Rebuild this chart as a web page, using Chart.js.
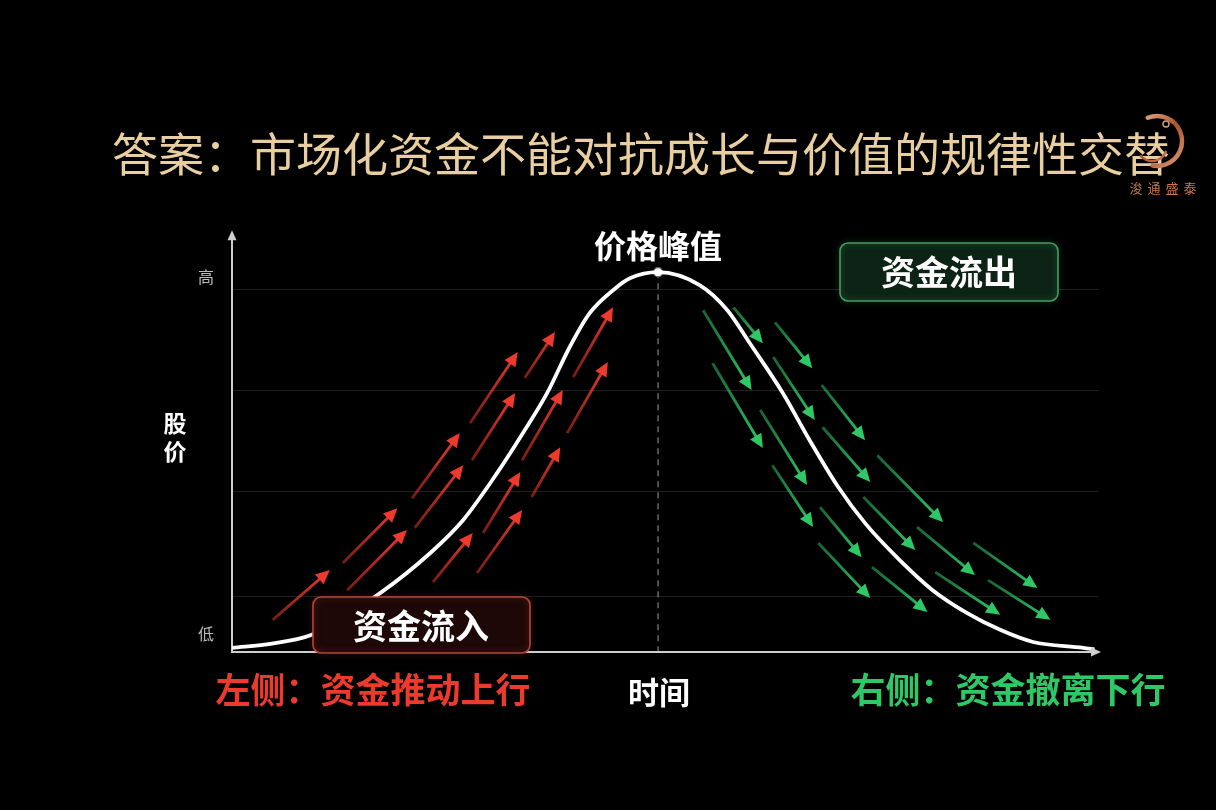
<!DOCTYPE html>
<html><head><meta charset="utf-8">
<script src="https://cdn.jsdelivr.net/npm/chart.js@4.4.1/dist/chart.umd.min.js"></script>
<style>
html,body{margin:0;padding:0;background:#000;}
#wrap{width:1216px;height:810px;position:relative;}
</style></head><body>
<div id="wrap"><canvas id="c"></canvas></div>
<script>
// ---- data (time 0..100, price 0..100) ----
const TITLE='答案：市场化资金不能对抗成长与价值的规律性交替';
const curveX=[0,4.6,9.2,17.1,22.9,26.7,30.6,33.6,36.4,39.0,41.3,44.0,46.0,49.2,54.0,57.2,59.8,63.6,66.7,69.9,73.2,77.1,80.9,84.9,88.7,92.5,98.3,99.6];
const curveY=[1.0,2.0,4.1,14.1,23.7,31.6,42.8,52.4,62.0,73.0,81.1,86.6,89.5,90.9,87.8,81.8,73.9,62.0,50.7,39.8,30.6,22.0,14.8,9.3,5.3,2.4,1.0,0.6];
const peak=[49.2,90.9];
const gridLevels=[13.4,38.3,62.7,86.8];
const tickValues=[4.3,13.4,38.3,62.7,86.8,89.7];
const tickLabels={4.3:'低',89.7:'高'};
// arrows: [x1,y1,x2,y2]
const inflowArrows=[
  [4.7,7.7,11.3,19.6],[12.8,21.3,19.1,34.4],[13.3,14.8,20.2,29.2],
  [20.8,36.8,26.3,52.4],[21.1,29.7,26.7,44.7],[27.5,54.8,33.0,71.8],
  [27.7,45.9,32.7,62.0],[33.8,65.6,37.3,76.6],[33.5,45.9,38.2,62.7],
  [39.4,65.8,44.0,82.5],[38.7,52.4,43.4,69.4],[34.6,37.1,37.9,49.0],
  [29.0,28.5,33.3,43.1],[23.2,16.7,27.8,28.5],[28.3,18.9,33.5,34.0]
];
const outflowArrows=[
  [54.4,81.8,60.0,62.7],[57.9,82.5,61.3,73.9],[62.7,78.9,67.0,67.9],
  [55.5,69.1,61.3,48.8],[62.5,70.6,67.3,55.5],[68.1,63.9,73.1,50.7],
  [61.0,57.9,66.4,40.0],[68.2,53.8,73.7,40.7],[74.5,47.1,82.1,31.1],
  [62.4,44.7,67.1,29.9],[67.9,34.7,72.7,22.7],[72.9,37.1,78.9,24.4],
  [79.1,29.9,85.8,18.4],[67.7,26.1,73.7,12.9],[73.9,20.3,80.3,9.6],
  [81.2,19.1,88.7,8.9],[85.6,26.1,93.0,15.3],[87.3,17.2,94.5,7.7]
];

const FONT='"Noto Sans CJK SC","Noto Sans",sans-serif';
const RED='236,58,44', GREEN='46,200,102';

function drawArrow(ctx,xs,ys,a,rgb){
  const x1=xs.getPixelForValue(a[0]),y1=ys.getPixelForValue(a[1]);
  const x2=xs.getPixelForValue(a[2]),y2=ys.getPixelForValue(a[3]);
  const ang=Math.atan2(y2-y1,x2-x1),hl=14,hw=6.5;
  const bx=x2-Math.cos(ang)*hl,by=y2-Math.sin(ang)*hl;
  const g=ctx.createLinearGradient(x1,y1,x2,y2);
  g.addColorStop(0,`rgba(${rgb},0.5)`);g.addColorStop(1,`rgba(${rgb},1)`);
  ctx.strokeStyle=g;ctx.lineWidth=2.8;ctx.lineCap='butt';
  ctx.beginPath();ctx.moveTo(x1,y1);ctx.lineTo(bx+Math.cos(ang)*2,by+Math.sin(ang)*2);ctx.stroke();
  ctx.fillStyle=`rgb(${rgb})`;ctx.beginPath();ctx.moveTo(x2,y2);
  ctx.lineTo(bx+Math.sin(ang)*hw,by-Math.cos(ang)*hw);
  ctx.lineTo(bx-Math.sin(ang)*hw,by+Math.cos(ang)*hw);
  ctx.closePath();ctx.fill();
}
function txt(ctx,s,x,y,size,color,weight){
  ctx.font=`${weight||'bold'} ${size}px ${FONT}`;ctx.fillStyle=color;
  ctx.textAlign='center';ctx.textBaseline='middle';ctx.fillText(s,x,y);
}
function box(ctx,x,y,w,h,fill,stroke,glow){
  ctx.save();ctx.beginPath();ctx.roundRect(x,y,w,h,8);
  ctx.fillStyle=fill;ctx.fill();
  ctx.shadowColor=glow;ctx.shadowBlur=6;
  ctx.strokeStyle=stroke;ctx.lineWidth=1.6;ctx.stroke();ctx.restore();
}

const overlay={
  id:'overlay',
  beforeDatasetsDraw(chart){
    const {ctx,scales:{x,y}}=chart;
    ctx.save();
    // dashed drop line from the peak
    const px=x.getPixelForValue(peak[0]);
    ctx.setLineDash([6,5]);ctx.strokeStyle='rgba(190,190,190,.55)';ctx.lineWidth=1.5;
    ctx.beginPath();ctx.moveTo(px,y.getPixelForValue(peak[1]));ctx.lineTo(px,y.getPixelForValue(0));ctx.stroke();
    ctx.setLineDash([]);
    inflowArrows.forEach(a=>drawArrow(ctx,x,y,a,RED));
    outflowArrows.forEach(a=>drawArrow(ctx,x,y,a,GREEN));
    ctx.restore();
  },
  afterDatasetsDraw(chart){
    const {ctx,chartArea:ca}=chart;
    ctx.save();
    // axis arrowheads
    ctx.fillStyle='#cfcfcf';
    ctx.beginPath();ctx.moveTo(ca.left,ca.top-4);ctx.lineTo(ca.left-4.5,ca.top+6);ctx.lineTo(ca.left+4.5,ca.top+6);ctx.fill();
    ctx.beginPath();ctx.moveTo(ca.right+3,ca.bottom);ctx.lineTo(ca.right-7,ca.bottom-4.5);ctx.lineTo(ca.right-7,ca.bottom+4.5);ctx.fill();
    // boxes
    box(ctx,313,597,217,56,'#1d0807','#b4463b','rgba(220,70,60,.5)');
    txt(ctx,'资金流入',421,626,34,'#fff');
    box(ctx,840,243,218,58,'#0c2315','#449c60','rgba(70,200,110,.5)');
    txt(ctx,'资金流出',949,272,34,'#fff');
    // labels
    txt(ctx,'价格峰值',658,246,32,'#fff');
    txt(ctx,'股',175,423,23,'#fff');
    txt(ctx,'价',175,451,23,'#fff');
    txt(ctx,'时间',659,692,31,'#fff');
    txt(ctx,'左侧：资金推动上行',373,690,35,`rgb(${RED})`);
    txt(ctx,'右侧：资金撤离下行',1008,690,35,`rgb(${GREEN})`);
    ctx.restore();
  },
  afterDraw(chart){
    const ctx=chart.ctx;
    ctx.save();
    const g=ctx.createLinearGradient(1132,112,1186,170);
    g.addColorStop(0,'#f3bf97');g.addColorStop(.5,'#a8552f');g.addColorStop(1,'#eaa27a');
    ctx.strokeStyle=g;ctx.lineCap='round';
    ctx.lineWidth=4.5;ctx.beginPath();ctx.arc(1157,141,25,-1.95,1.75);ctx.stroke();
    ctx.lineWidth=2.5;ctx.beginPath();ctx.arc(1152,146,15,0.4,2.4);ctx.stroke();
    ctx.lineWidth=1.4;ctx.strokeStyle='#d9a07c';ctx.beginPath();ctx.arc(1166,124,3,0,Math.PI*2);ctx.stroke();
    ['浚','通','盛','泰'].forEach((c,i)=>txt(ctx,c,1136+i*18,188,13,'#c8794d','normal'));
    ctx.restore();
  }
};

const cv=document.getElementById('c');
const c2=cv.getContext('2d');
const titleGrad=c2.createLinearGradient(0,128,0,180);
titleGrad.addColorStop(0,'#e9cf9f');titleGrad.addColorStop(1,'#b28c56');

new Chart(c2,{
  type:'line',
  data:{datasets:[
    {data:curveX.map((v,i)=>({x:v,y:curveY[i]})),borderColor:'#fff',borderWidth:3.8,
     pointRadius:0,cubicInterpolationMode:'monotone',fill:false},
    {type:'scatter',data:[{x:peak[0],y:peak[1]}],pointRadius:4.5,
     pointBackgroundColor:'#fff',pointBorderColor:'#666',pointBorderWidth:1.2}
  ]},
  options:{
    responsive:true,maintainAspectRatio:false,animation:false,
    layout:{padding:{left:112,right:0,top:0,bottom:0}},
    plugins:{
      legend:{display:false},tooltip:{enabled:false},
      title:{display:true,text:TITLE,align:'start',color:titleGrad,
        font:{family:FONT,size:46,weight:'normal'},padding:{top:126,bottom:53}}
    },
    scales:{
      x:{type:'linear',min:0,max:100,grid:{display:false},ticks:{display:false},
         border:{color:'#cfcfcf',width:2},afterFit(s){s.height=158;}},
      y:{min:0,max:100,
         afterBuildTicks(s){s.ticks=tickValues.map(v=>({value:v}));},
         ticks:{autoSkip:false,color:'#bdbdbd',padding:18,font:{family:FONT,size:16},
                callback:v=>tickLabels[v]||''},
         grid:{drawTicks:false,lineWidth:1,
               color:c=>gridLevels.includes(c.tick&&c.tick.value)?'rgba(255,255,255,.12)':'rgba(0,0,0,0)'},
         border:{color:'#cfcfcf',width:2},
         afterFit(s){s.width=120;}},
      // empty right-hand margin so the title keeps its full width
      yRight:{position:'right',display:true,grid:{display:false},ticks:{display:false},
         border:{display:false},afterFit(s){s.width=118;}}
    }
  },
  plugins:[overlay]
});
</script>
</body></html>
